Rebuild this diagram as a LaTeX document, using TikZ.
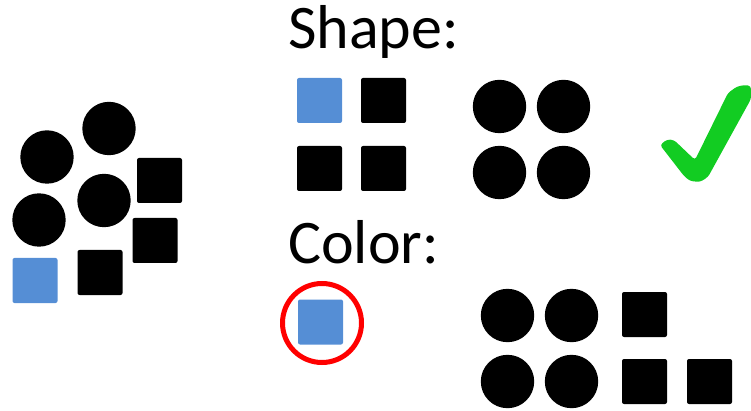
\documentclass[tikz,border=0pt]{standalone}
\usepackage{fontspec}
\setmainfont{Carlito}
\usetikzlibrary{positioning}
\definecolor{tileblue}{HTML}{558ED5}
\definecolor{ringred}{HTML}{FF0000}
\definecolor{okgreen}{HTML}{12CC22}
\tikzset{
  dot/.style={circle,fill=black,inner sep=0pt,minimum size=53.4pt},
  tile/.style={rectangle,fill=black,rounded corners=2pt,inner sep=0pt,minimum size=45pt},
  bluetile/.style={tile,fill=tileblue},
  ring/.style={circle,draw=ringred,line width=5pt,inner sep=0pt,minimum size=79pt},
  heading/.style={font=\fontsize{62}{62}\selectfont,anchor=base west,inner sep=0pt},
}
\begin{document}
\begin{tikzpicture}[x=1pt,y=-1pt]
  \useasboundingbox (0,0) rectangle (751,411);
  % mixed group on the left
  \foreach \x/\y/\n in {47/157/1,109/128.5/2,104/200.5/3,39/220/4}
    \node[dot] (mixdot\n) at (\x,\y) {};
  \foreach \x/\y/\n in {159.5/180.5/1,155/240.5/2,100/272.5/3}
    \node[tile] (mixtile\n) at (\x,\y) {};
  \node[bluetile] (mixblue) at (35,280.5) {};

  % split by shape
  \node[heading] (shapehead) at (288,49) {Shape:};
  \node[bluetile] (shapeblue) at (319.5,100.5) {};
  \foreach \x/\y/\n in {383.5/100.5/1,319.5/168.5/2,383.5/168.5/3}
    \node[tile] (shapetile\n) at (\x,\y) {};
  \foreach \x/\y/\n in {499.5/106.5/1,563.5/106.5/2,499.5/172.5/3,563.5/172.5/4}
    \node[dot] (shapedot\n) at (\x,\y) {};
  \fill[okgreen,rounded corners=3pt] (660,145) -- (667,139.5) -- (674,140)
    -- (695,160) -- (728,93) -- (737,86.5) -- (745,85) -- (751,86) -- (751,99)
    -- (708,177) -- (700,182) -- (690,181) -- (684,176) -- cycle;

  % split by color
  \node[heading] (colorhead) at (288,263) {Color:};
  \node[bluetile] (colorblue) at (320.5,322) {};
  \node[ring] (colorring) at (322,323) {};
  \foreach \x/\y/\n in {507.5/315.5/1,571.5/315.5/2,507.5/381.5/3,571.5/381.5/4}
    \node[dot] (colordot\n) at (\x,\y) {};
  \foreach \x/\y/\n in {644.5/314.5/1,644.5/381.5/2,709.5/381.5/3}
    \node[tile] (colortile\n) at (\x,\y) {};
\end{tikzpicture}
\end{document}
